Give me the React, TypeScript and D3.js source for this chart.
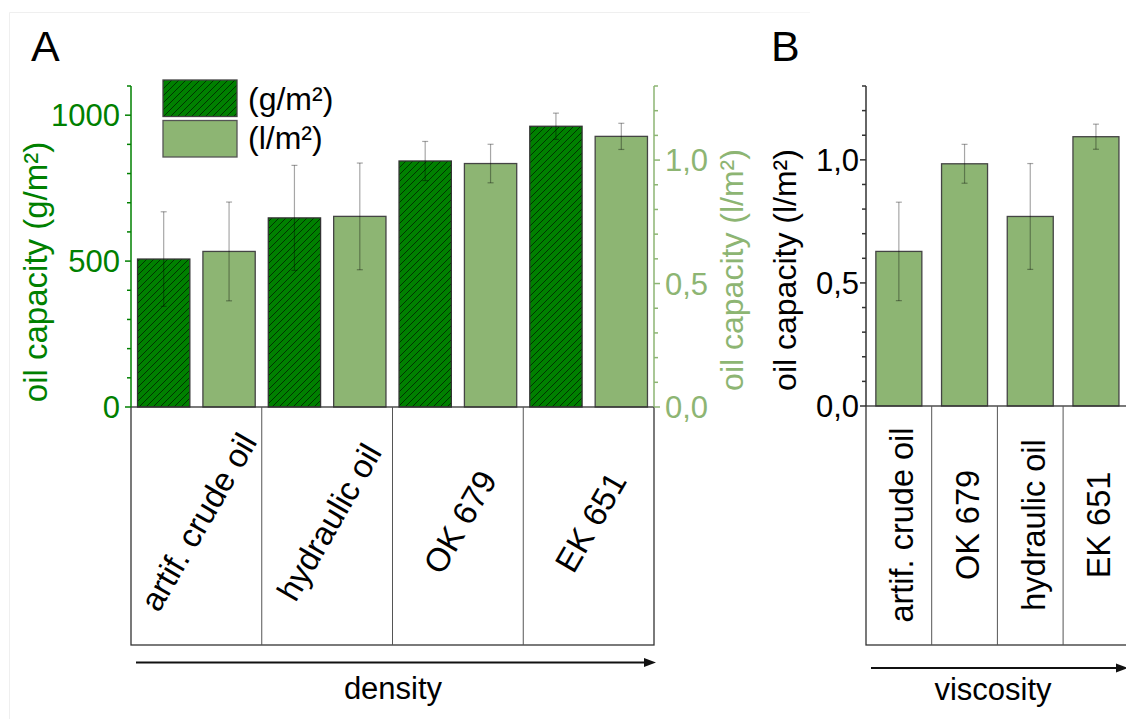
import React from "react";
import * as d3 from "d3";

const categoriesA = ["artif. crude oil", "hydraulic oil", "OK 679", "EK 651"];
const massValues = [507, 648, 843, 962];
const massErrors = [162, 180, 67, 45];
const volValues = [0.63, 0.772, 0.986, 1.096];
const volErrors = [0.2, 0.216, 0.078, 0.053];

const categoriesB = ["artif. crude oil", "OK 679", "hydraulic oil", "EK 651"];
const viscValues = [0.628, 0.984, 0.77, 1.094];
const viscErrors = [0.2, 0.079, 0.215, 0.051];

const leftTicks = d3.range(0, 1101, 100);
const leftLabels = [0, 500, 1000];
const volTicks = d3.range(0, 14).map((d) => d / 10);
const volLabels = [0, 0.5, 1.0];

const FONT = "'Liberation Sans', Arial, Helvetica, sans-serif";
const DARK = "#008000";
const LIGHT = "#8db573";
const FS = 31;

const fmtComma = (v: number) => d3.format(".1f")(v).replace(".", ",");

function ErrorBar({ x, y1, y2 }: { x: number; y1: number; y2: number }) {
  const cw = 3;
  return (
    <g stroke="#000" strokeOpacity={0.35} strokeWidth={1.2}>
      <line x1={x} x2={x} y1={y1} y2={y2} />
      <line x1={x - cw} x2={x + cw} y1={y1} y2={y1} />
      <line x1={x - cw} x2={x + cw} y1={y2} y2={y2} />
    </g>
  );
}

export default function App() {
  // Panel A scales
  const axL = 131;
  const axR = 654;
  const base = 407;
  const top = 86;
  const yMass = d3.scaleLinear().domain([0, 1100]).range([base, top]);
  const yVol = d3.scaleLinear().domain([0, 1.3]).range([base, top]);
  const xA = d3.scaleBand<string>().domain(categoriesA).range([axL, axR]).padding(0);
  const sub = d3
    .scaleBand<string>()
    .domain(["g", "l"])
    .range([0, xA.bandwidth()])
    .paddingInner(0.2)
    .paddingOuter(0.1);
  const boxBottom = 645;

  // Panel B scales
  const bxL = 866;
  const bBase = 406;
  const yB = d3.scaleLinear().domain([0, 1.3]).range([bBase, top]);
  const xB = d3
    .scaleBand<string>()
    .domain(categoriesB)
    .range([bxL, bxL + 4 * 65.7])
    .paddingInner(0.3)
    .paddingOuter(0.15);
  const xBbox = d3.scaleBand<string>().domain(categoriesB).range([bxL, bxL + 4 * 65.7]).padding(0);

  return (
    <svg
      width={1126}
      height={719}
      style={{ position: "absolute", left: 0, top: 0, background: "#fff" }}
      fontFamily={FONT}
    >
      <defs>
        <pattern id="hatch" patternUnits="userSpaceOnUse" width={7} height={7}>
          <rect width={7} height={7} fill={DARK} />
          <path
            d="M-1,1 L1,-1 M0,7 L7,0 M6,8 L8,6"
            stroke="#000"
            strokeOpacity={0.75}
            strokeWidth={0.8}
          />
        </pattern>
      </defs>

      {/* faint frame */}
      <polyline points="9.5,719 9.5,12.5 760,12.5" fill="none" stroke="#efefef" strokeWidth={1} />
      <line x1={760} x2={810} y1={12.5} y2={12.5} stroke="#f6f6f6" strokeWidth={1} />

      {/* Panel labels */}
      <text x={31} y={61} fontSize={43} fill="#000">A</text>
      <text x={771} y={61} fontSize={43} fill="#000">B</text>

      {/* ===== Panel A ===== */}
      {categoriesA.map((c, i) => {
        const x0 = xA(c)!;
        const gx = x0 + sub("g")!;
        const lx = x0 + sub("l")!;
        const bw = sub.bandwidth();
        return (
          <g key={c}>
            <rect
              x={gx}
              y={yMass(massValues[i])}
              width={bw}
              height={base - yMass(massValues[i])}
              fill="url(#hatch)"
              stroke="#333"
              strokeWidth={1.3}
            />
            <rect
              x={lx}
              y={yVol(volValues[i])}
              width={bw}
              height={base - yVol(volValues[i])}
              fill={LIGHT}
              stroke="#444"
              strokeWidth={1.3}
            />
            <ErrorBar
              x={gx + bw / 2}
              y1={yMass(massValues[i] + massErrors[i])}
              y2={yMass(massValues[i] - massErrors[i])}
            />
            <ErrorBar
              x={lx + bw / 2}
              y1={yVol(volValues[i] + volErrors[i])}
              y2={yVol(volValues[i] - volErrors[i])}
            />
          </g>
        );
      })}

      {/* category boxes A */}
      <rect x={axL} y={base} width={axR - axL} height={boxBottom - base} fill="none" stroke="#333" strokeWidth={1.3} />
      {categoriesA.slice(1).map((c) => (
        <line key={c} x1={xA(c)!} x2={xA(c)!} y1={base} y2={boxBottom} stroke="#555" strokeWidth={1} />
      ))}
      {categoriesA.map((c) => {
        const cx = xA(c)! + xA.bandwidth() / 2 + 2;
        const cy = 522;
        return (
          <text
            key={c}
            x={cx}
            y={cy}
            dy="0.35em"
            fontSize={33}
            textAnchor="middle"
            transform={`rotate(-60 ${cx} ${cy})`}
            fill="#000"
          >
            {c}
          </text>
        );
      })}

      {/* left axis */}
      <line x1={axL} x2={axL} y1={top} y2={base} stroke={DARK} strokeWidth={1.5} />
      {leftTicks.map((t) => (
        <line
          key={t}
          x1={axL}
          x2={axL - (t % 500 === 0 ? 6 : 4)}
          y1={yMass(t)}
          y2={yMass(t)}
          stroke={DARK}
          strokeWidth={1.5}
        />
      ))}
      {leftLabels.map((t) => (
        <text key={t} x={120} y={yMass(t)} dy="0.36em" textAnchor="end" fontSize={FS} fill={DARK}>
          {t}
        </text>
      ))}
      <text
        x={47}
        y={272}
        fontSize={33}
        fill={DARK}
        textAnchor="middle"
        transform="rotate(-90 47 272)"
      >
        oil capacity (g/m²)
      </text>

      {/* right axis */}
      <line x1={axR} x2={axR} y1={top} y2={base} stroke={LIGHT} strokeWidth={1.5} />
      {volTicks.map((t) => (
        <line
          key={t}
          x1={axR}
          x2={axR + (Math.round(t * 10) % 5 === 0 ? 6 : 4)}
          y1={yVol(t)}
          y2={yVol(t)}
          stroke={LIGHT}
          strokeWidth={1.5}
        />
      ))}
      {volLabels.map((t) => (
        <text key={t} x={665} y={yVol(t)} dy="0.36em" textAnchor="start" fontSize={FS} fill={LIGHT}>
          {fmtComma(t)}
        </text>
      ))}
      <text
        x={743}
        y={270}
        fontSize={32}
        fill={LIGHT}
        textAnchor="middle"
        transform="rotate(-90 743 270)"
      >
        oil capacity (l/m²)
      </text>

      {/* legend */}
      <rect x={163} y={80} width={74} height={36.5} fill="url(#hatch)" stroke="#444" strokeWidth={1.3} />
      <rect x={163} y={120.5} width={74} height={36.5} fill={LIGHT} stroke="#555" strokeWidth={1.3} />
      <text x={248} y={110} fontSize={32} fill="#000">(g/m²)</text>
      <text x={248} y={149} fontSize={32} fill="#000">(l/m²)</text>

      {/* density arrow */}
      <line x1={136} x2={648} y1={662.5} y2={662.5} stroke="#111" strokeWidth={2} />
      <path d="M656,662.5 L644,658 L644,667 Z" fill="#111" />
      <text x={393} y={699} fontSize={FS} textAnchor="middle" fill="#000">density</text>

      {/* ===== Panel B ===== */}
      {categoriesB.map((c, i) => {
        const x = xB(c)!;
        const bw = xB.bandwidth();
        return (
          <g key={c}>
            <rect
              x={x}
              y={yB(viscValues[i])}
              width={bw}
              height={bBase - yB(viscValues[i])}
              fill={LIGHT}
              stroke="#444"
              strokeWidth={1.3}
            />
            <ErrorBar
              x={x + bw / 2}
              y1={yB(viscValues[i] + viscErrors[i])}
              y2={yB(viscValues[i] - viscErrors[i])}
            />
          </g>
        );
      })}
      <rect x={bxL} y={bBase} width={4 * 65.7} height={boxBottom - bBase} fill="none" stroke="#333" strokeWidth={1.3} />
      {categoriesB.slice(1).map((c) => (
        <line key={c} x1={xBbox(c)!} x2={xBbox(c)!} y1={bBase} y2={boxBottom} stroke="#555" strokeWidth={1} />
      ))}
      {categoriesB.map((c) => {
        const cx = xBbox(c)! + xBbox.bandwidth() / 2 + 3;
        const cy = 525;
        return (
          <text
            key={c}
            x={cx}
            y={cy}
            dy="0.35em"
            fontSize={32.5}
            textAnchor="middle"
            transform={`rotate(-90 ${cx} ${cy})`}
            fill="#000"
          >
            {c}
          </text>
        );
      })}

      {/* B axis */}
      <line x1={bxL} x2={bxL} y1={top} y2={bBase} stroke="#333" strokeWidth={1.5} />
      {volTicks.map((t) => (
        <line
          key={t}
          x1={bxL}
          x2={bxL - (Math.round(t * 10) % 5 === 0 ? 6 : 4)}
          y1={yB(t)}
          y2={yB(t)}
          stroke="#333"
          strokeWidth={1.5}
        />
      ))}
      {volLabels.map((t) => (
        <text key={t} x={859} y={yB(t)} dy="0.36em" textAnchor="end" fontSize={FS} fill="#000">
          {fmtComma(t)}
        </text>
      ))}
      <text
        x={796}
        y={270}
        fontSize={32}
        fill="#000"
        textAnchor="middle"
        transform="rotate(-90 796 270)"
      >
        oil capacity (l/m²)
      </text>

      {/* viscosity arrow */}
      <line x1={871} x2={1120} y1={668} y2={668} stroke="#111" strokeWidth={2} />
      <path d="M1128,668 L1116,663.5 L1116,672.5 Z" fill="#111" />
      <text x={993} y={700} fontSize={FS} textAnchor="middle" fill="#000">viscosity</text>
    </svg>
  );
}
